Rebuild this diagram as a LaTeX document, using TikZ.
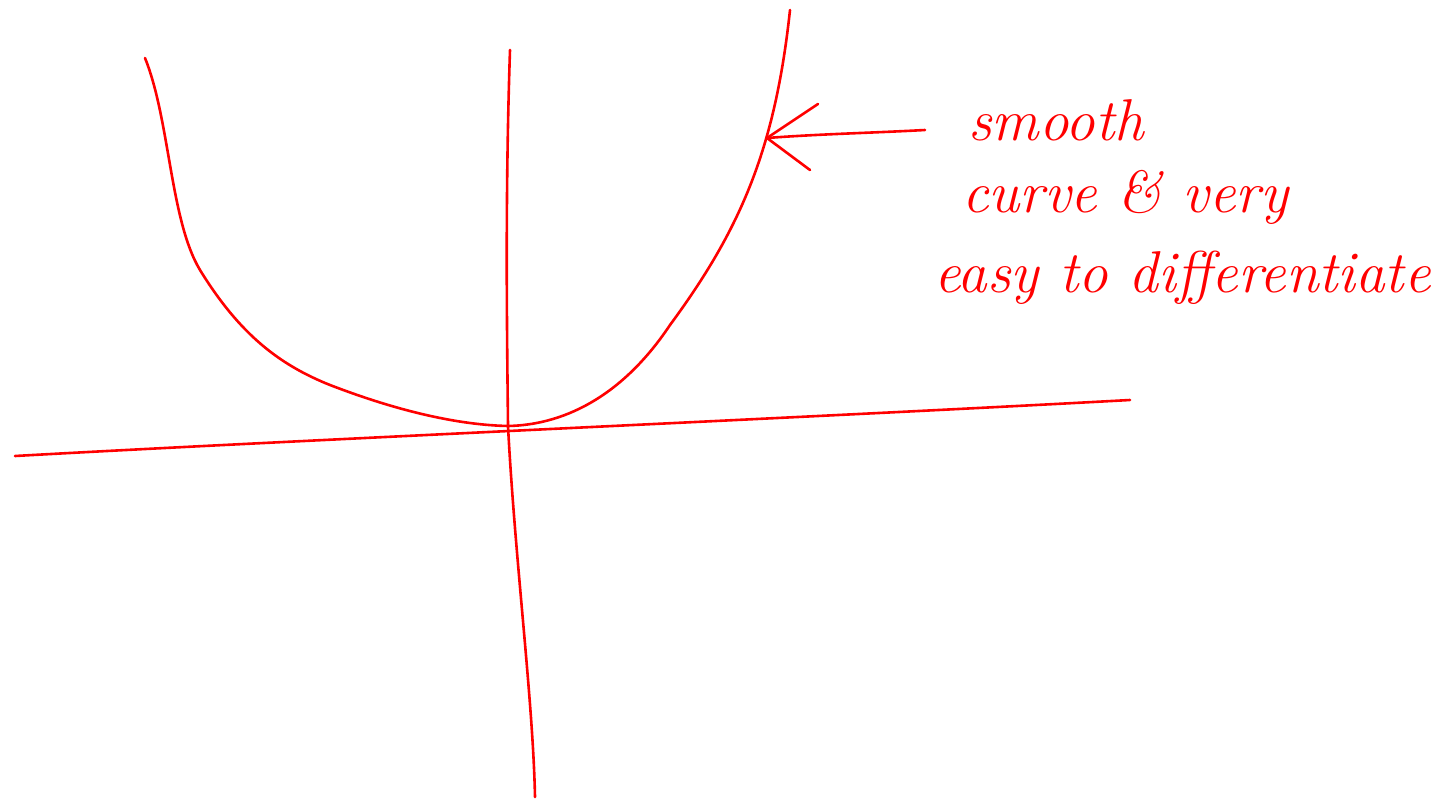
\documentclass[tikz,border=0pt]{standalone}
\usetikzlibrary{calc}
\definecolor{ink}{RGB}{255,0,0}
\begin{document}
\begin{tikzpicture}[x=1pt,y=-1pt,
  pen/.style={draw=ink,line width=2.6pt,line cap=round,line join=round},
  note/.style={text=ink,anchor=base west,inner sep=0pt,font=\fontsize{59}{64}\selectfont\itshape}]
\useasboundingbox (0,0) rectangle (1435,800);
% axes
\coordinate (xl) at (15,456);
\coordinate (xr) at (1130,400);
\coordinate (yt) at (510,50);
\coordinate (yb) at (535,797);
\coordinate (o) at (508,426);
\draw[pen] (xl) .. controls (300,440) and (800,418) .. (xr);
\draw[pen] (yt) .. controls (505,200) and (507,330) .. (o) .. controls (515,560) and (533,700) .. (yb);
% curve
\draw[pen] (145,58) .. controls (170,120) and (170,220) .. (200,270)
  .. controls (240,335) and (280,365) .. (330,385)
  .. controls (400,412) and (460,425) .. (o)
  .. controls (560,425) and (620,400) .. (670,325)
  .. controls (740,230) and (775,150) .. (790,10);
% arrow
\coordinate (tail) at (925,130);
\coordinate (head) at (767,138);
\draw[pen] (tail) .. controls (870,133) and (820,134) .. (head);
\draw[pen] (818,104) -- (head) -- (810,170);
% text
\node[note] (t1) at (968,140) {smooth};
\node[note] (t2) at (962,212) {curve \& very};
\node[note] (t3) at (934,292) {easy to differentiate};
\end{tikzpicture}
\end{document}
